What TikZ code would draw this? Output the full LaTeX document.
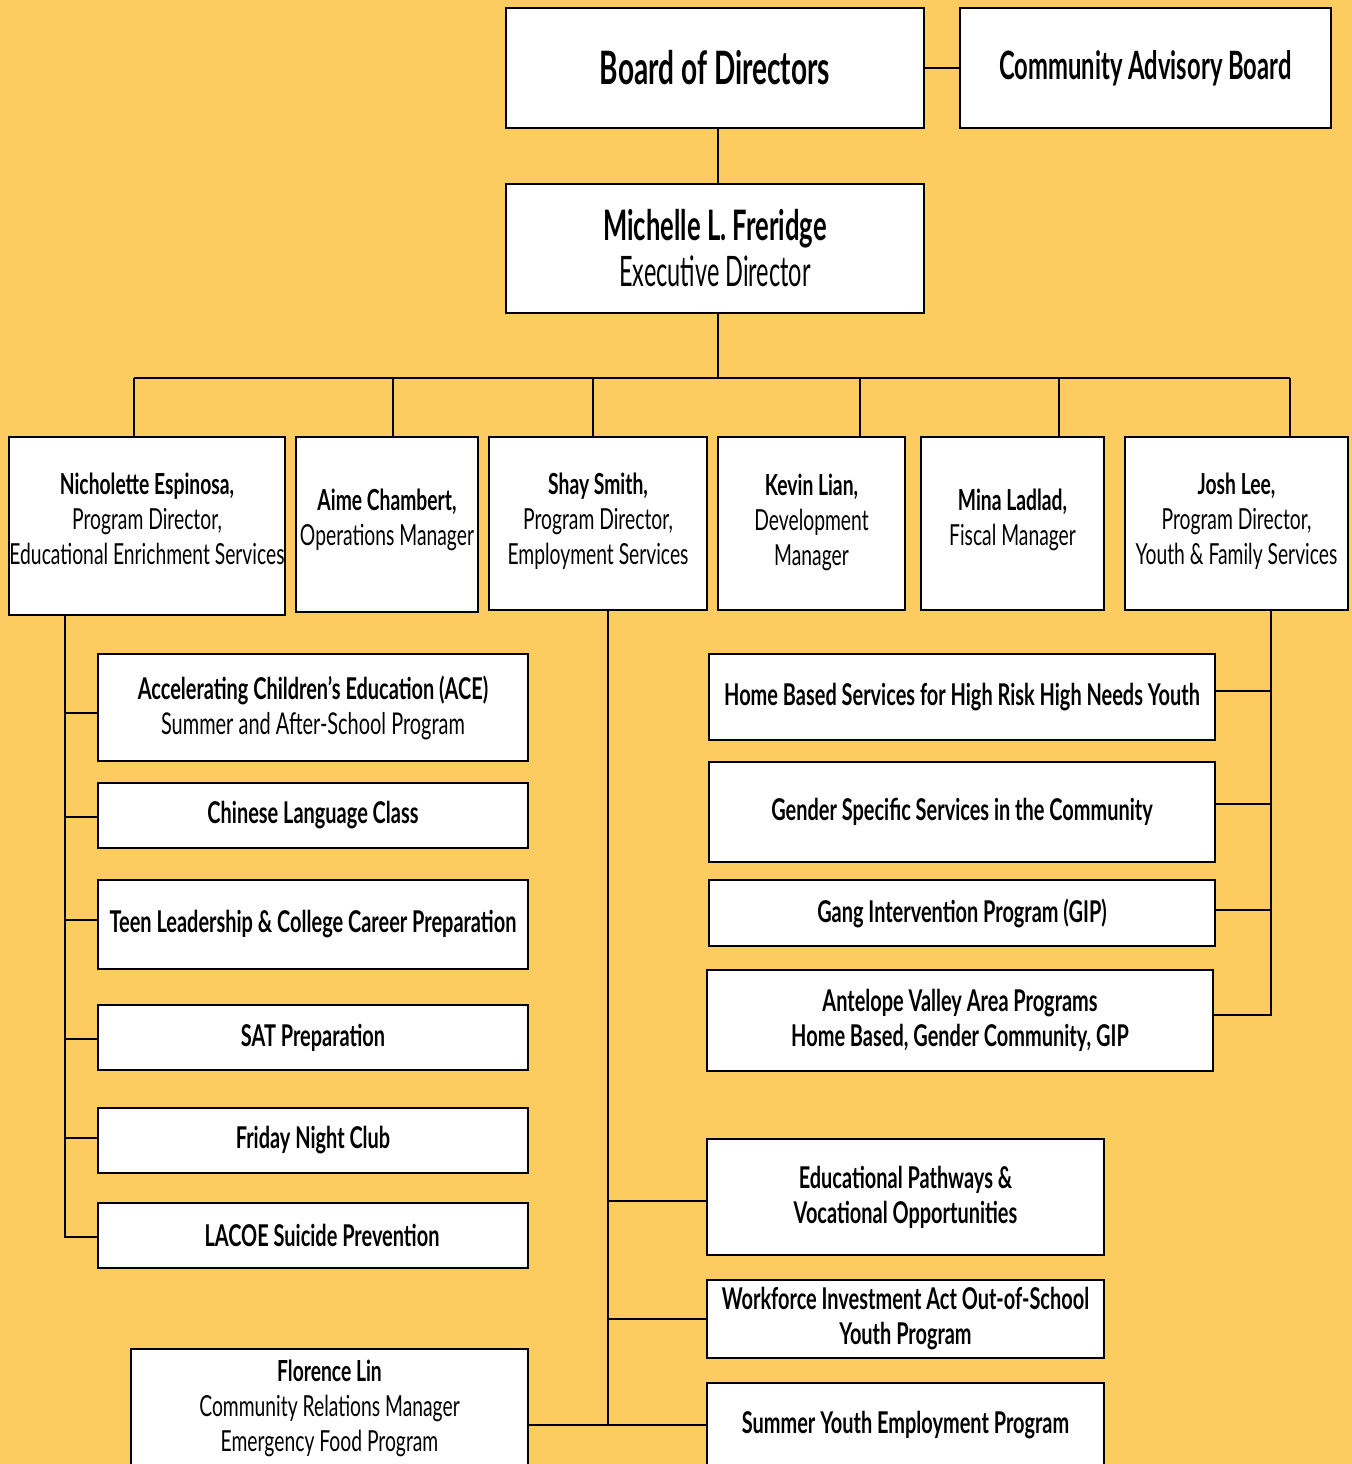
\documentclass[tikz,border=0pt]{standalone}
\usepackage{fontspec}
\setmainfont[FakeStretch=0.665]{Lato}
\newfontfamily\bigfont[FakeStretch=0.61]{Lato}
\newfontfamily\narrowfont[FakeStretch=0.56]{Lato}
\definecolor{bg}{RGB}{252,204,96}
\begin{document}
\begin{tikzpicture}[x=0.5pt,y=-0.5pt,
  box/.style={draw=black, fill=white, line width=1.3pt, inner sep=0pt, align=center},
  conn/.style={draw=black, line width=1.3pt},
  nm/.style={font=\fontsize{14.5}{17.5}\selectfont, align=center, inner sep=0pt},
  prog/.style={font=\bfseries\fontsize{15}{17.5}\selectfont}]
\useasboundingbox (0,0) rectangle (1352,1464);
\fill[bg] (0,0) rectangle (1352,1464);
\clip (0,0) rectangle (1352,1464);

% top
\node[box, minimum width=209pt, minimum height=60pt, font=\bigfont\bfseries\fontsize{23}{28}\selectfont] (board) at (715,68) {Board of Directors};
\node[box, minimum width=185.5pt, minimum height=60pt, font=\bigfont\bfseries\fontsize{19.5}{22}\selectfont] (cab) at (1145.5,68) {Community Advisory Board};
\node[box, minimum width=209pt, minimum height=64.5pt, font=\fontsize{21}{23}\selectfont] (ed) at (715,248.5) {{\bigfont\bfseries Michelle L. Freridge}\\{\narrowfont Executive Director}};

% second row (boxes, then their texts)
\node[box, minimum width=138pt, minimum height=89pt] (ne) at (147,526) {};
\node[nm] (neT) at ([yshift=3.5pt]ne.center) {\textbf{Nicholette Espinosa,}\\Program Director,\\Educational Enrichment Services};
\node[box, minimum width=91pt, minimum height=87.5pt] (ac) at (387,524.5) {};
\node[nm] (acT) at ([yshift=2.5pt]ac.center) {\textbf{Aime Chambert,}\\Operations Manager};
\node[box, minimum width=109pt, minimum height=86.5pt] (ss) at (598,523.5) {};
\node[nm] (ssT) at ([yshift=1pt]ss.center) {\textbf{Shay Smith,}\\Program Director,\\Employment Services};
\node[box, minimum width=93.5pt, minimum height=86.5pt] (kl) at (811.5,523.5) {};
\node[nm] (klT) at ([yshift=0.5pt]kl.center) {\textbf{Kevin Lian,}\\Development\\Manager};
\node[box, minimum width=91.5pt, minimum height=86.5pt] (ml) at (1012.5,523.5) {};
\node[nm] (mlT) at ([yshift=2pt]ml.center) {\textbf{Mina Ladlad,}\\Fiscal Manager};
\node[box, minimum width=111.5pt, minimum height=86.5pt] (jl) at (1236.5,523.5) {};
\node[nm] (jlT) at ([yshift=1pt]jl.center) {\textbf{Josh Lee,}\\Program Director,\\Youth \& Family Services};

% left column
\node[box, prog, minimum width=215pt, minimum height=53.5pt] (ace) at (313,707.5) {Accelerating Children’s Education (ACE)\\\mdseries Summer and After-School Program};
\node[box, prog, minimum width=215pt, minimum height=32.5pt] (clc) at (313,815.5) {Chinese Language Class};
\node[box, prog, minimum width=215pt, minimum height=44.5pt] (tl) at (313,924.5) {Teen Leadership \& College Career Preparation};
\node[box, prog, minimum width=215pt, minimum height=32.5pt] (sat) at (313,1037.5) {SAT Preparation};
\node[box, prog, minimum width=215pt, minimum height=32.5pt] (fnc) at (313,1140.5) {Friday Night Club};
\node[box, prog, minimum width=215pt, minimum height=32.5pt] (lacoe) at (313,1235.5) {\hspace*{9pt}LACOE Suicide Prevention};
\node[box, font=\fontsize{14.5}{17.5}\selectfont, minimum width=198.5pt, minimum height=59pt] (fl) at (329.5,1408) {\textbf{Florence Lin}\\Community Relations Manager\\Emergency Food Program};

% right column
\node[box, prog, minimum width=253pt, minimum height=43pt] (hb) at (962,697) {Home Based Services for High Risk High Needs Youth};
\node[box, prog, minimum width=253pt, minimum height=50pt] (gs) at (962,812) {Gender Specific Services in the Community};
\node[box, prog, minimum width=253pt, minimum height=33pt] (gip) at (962,913) {Gang Intervention Program (GIP)};
\node[box, prog, minimum width=253pt, minimum height=50.5pt] (av) at (960,1020.5) {Antelope Valley Area Programs\\Home Based, Gender Community, GIP};

% middle column
\node[box, prog, minimum width=198.5pt, minimum height=58pt] (ep) at (905.5,1197) {Educational Pathways \&\\Vocational Opportunities};
\node[box, prog, minimum width=198.5pt, minimum height=39pt] (wia) at (905.5,1319) {Workforce Investment Act Out-of-School\\Youth Program};
\node[box, prog, minimum width=198.5pt, minimum height=42pt] (sy) at (905.5,1425) {Summer Youth Employment Program};

% connectors top
\draw[conn] (board.east) -- (cab.west);
\draw[conn] ([xshift=1.5pt]board.south) -- ([xshift=1.5pt]ed.north);
\coordinate (busL) at (134,378);
\coordinate (busR) at (1290,378);
\draw[conn] ([xshift=1.5pt]ed.south) -- ([xshift=1.5pt]ed.south |- busL);
\draw[conn] (busL) -- (busR);
\coordinate (dA) at (393,378);
\coordinate (dS) at (593,378);
\coordinate (dK) at (860,378);
\coordinate (dM) at (1059,378);
\draw[conn] (busL) -- (busL |- ne.north);
\draw[conn] (dA) -- (dA |- ac.north);
\draw[conn] (dS) -- (dS |- ss.north);
\draw[conn] (dK) -- (dK |- kl.north);
\draw[conn] (dM) -- (dM |- ml.north);
\draw[conn] (busR) -- (busR |- jl.north);

% left spine
\coordinate (lb) at (65,1237);
\draw[conn] (lb |- ne.south) -- (lb) -- (lacoe.west |- lb);
\draw[conn] ([yshift=-2.75pt]ace.west -| lb) -- ([yshift=-2.75pt]ace.west);
\draw[conn] ([yshift=-0.75pt]clc.west -| lb) -- ([yshift=-0.75pt]clc.west);
\draw[conn] ([yshift=2.25pt]tl.west -| lb) -- ([yshift=2.25pt]tl.west);
\draw[conn] ([yshift=-0.75pt]sat.west -| lb) -- ([yshift=-0.75pt]sat.west);
\draw[conn] ([yshift=1.25pt]fnc.west -| lb) -- ([yshift=1.25pt]fnc.west);

% middle spine
\coordinate (mv) at (608,1425);
\draw[conn] (mv |- ss.south) -- (mv);
\draw[conn] (fl.east |- mv) -- (sy.west |- mv);
\draw[conn] ([yshift=-2pt]ep.west -| mv) -- ([yshift=-2pt]ep.west);
\draw[conn] (wia.west -| mv) -- (wia.west);

% right spine
\coordinate (rb) at (1271,1015);
\draw[conn] (rb |- jl.south) -- (rb) -- (av.east |- rb);
\draw[conn] ([yshift=3pt]hb.east -| rb) -- ([yshift=3pt]hb.east);
\draw[conn] ([yshift=4pt]gs.east -| rb) -- ([yshift=4pt]gs.east);
\draw[conn] ([yshift=1.5pt]gip.east -| rb) -- ([yshift=1.5pt]gip.east);
\end{tikzpicture}
\end{document}
